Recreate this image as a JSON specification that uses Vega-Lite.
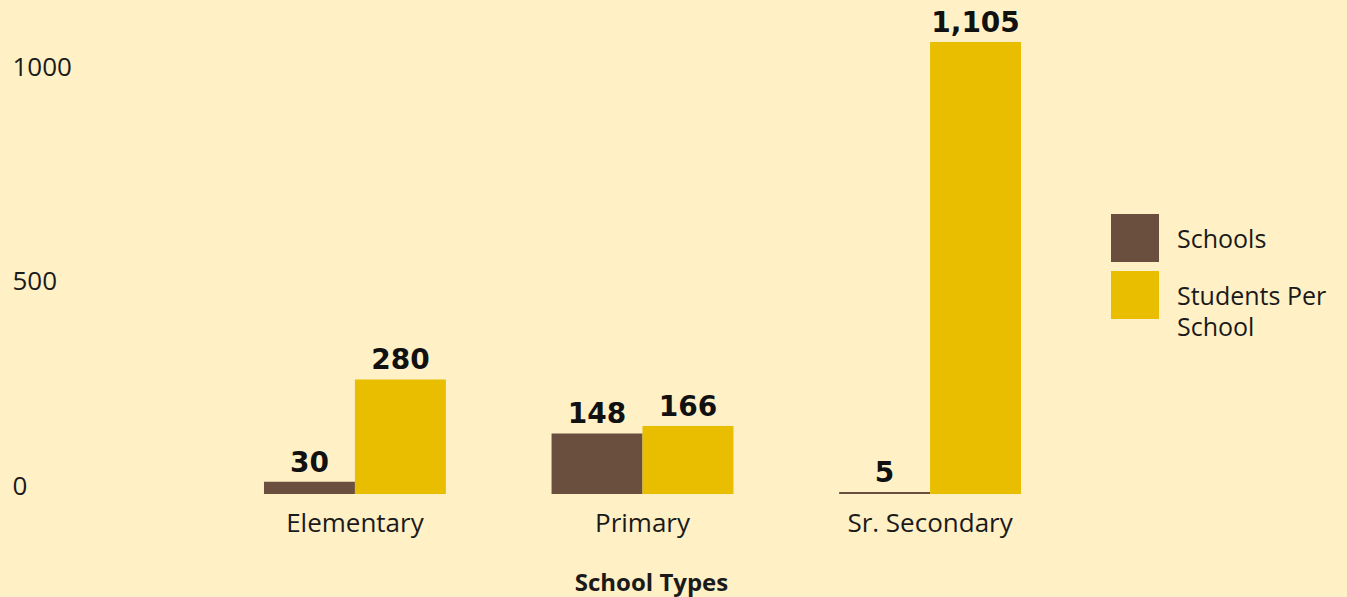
{
  "$schema": "https://vega.github.io/schema/vega-lite/v6.json",
  "autosize": {"type": "none"},
  "width": 929,
  "height": 452,
  "padding": {"left": 178, "top": 42, "right": 240, "bottom": 103},
  "background": "#FFF0C6",
  "config": {
    "view": {"stroke": null},
    "font": "Open Sans"
  },
  "data": {
    "values": [
      {"type": "Elementary", "metric": "Schools", "value": 30},
      {"type": "Elementary", "metric": "Students Per School", "value": 280},
      {"type": "Primary", "metric": "Schools", "value": 148},
      {"type": "Primary", "metric": "Students Per School", "value": 166},
      {"type": "Sr. Secondary", "metric": "Schools", "value": 5},
      {"type": "Sr. Secondary", "metric": "Students Per School", "value": 1105}
    ]
  },
  "encoding": {
    "x": {
      "field": "type",
      "type": "nominal",
      "sort": ["Elementary", "Primary", "Sr. Secondary"],
      "scale": {"paddingInner": 0.3675, "paddingOuter": 0.299},
      "axis": {
        "title": "School Types",
        "labelAngle": 0,
        "domain": false,
        "ticks": false,
        "tickSize": 0,
        "labelPadding": 16,
        "labelBaseline": "top",
        "labelFont": "Open Sans",
        "labelFontSize": 26,
        "labelColor": "#1a1a1a",
        "titleFont": "Open Sans",
        "titleFontSize": 24,
        "titleFontWeight": "bold",
        "titleColor": "#1a1a1a",
        "titleBaseline": "alphabetic",
        "titleAlign": "center",
        "titleX": 473,
        "titleY": 96
      }
    },
    "xOffset": {
      "field": "metric",
      "type": "nominal",
      "sort": ["Schools", "Students Per School"],
      "scale": {"paddingInner": 0, "paddingOuter": 0}
    },
    "y": {
      "field": "value",
      "type": "quantitative",
      "scale": {"domain": [0, 1105], "nice": false},
      "axis": {
        "title": null,
        "values": [0, 500, 1000],
        "domain": false,
        "ticks": false,
        "tickSize": 0,
        "grid": false,
        "labelAlign": "left",
        "labelPadding": 166,
        "labelOffset": {"condition": {"test": "datum.value == 1000", "value": -17}, "value": -8},
        "labelFont": "Open Sans",
        "labelFontSize": 26,
        "labelColor": "#1a1a1a",
        "format": "d"
      }
    }
  },
  "layer": [
    {
      "mark": {"type": "bar"},
      "encoding": {
        "color": {
          "field": "metric",
          "type": "nominal",
          "sort": ["Schools", "Students Per School"],
          "scale": {"domain": ["Schools", "Students Per School"], "range": ["#6B4F3E", "#E9BE00"]},
          "legend": {
            "title": null,
            "orient": "none",
            "legendX": 933,
            "legendY": 172,
            "symbolType": "square",
            "symbolSize": 2304,
            "symbolStrokeWidth": 0,
            "symbolOpacity": 1,
            "labelFont": "Open Sans",
            "labelFontSize": 25,
            "labelColor": "#1a1a1a",
            "labelOffset": 18,
            "labelLimit": 300,
            "rowPadding": 9,
            "labelExpr": "datum.label == 'Students Per School' ? ['Students Per', 'School'] : datum.label",
            "encode": {
              "labels": {"update": {"lineHeight": {"value": 31}, "dy": {"value": 2}}}
            }
          }
        }
      }
    },
    {
      "mark": {
        "type": "text",
        "font": "DejaVu Sans",
        "fontWeight": "bold",
        "fontSize": 28,
        "baseline": "alphabetic",
        "dy": -10,
        "color": "#111111"
      },
      "encoding": {
        "text": {"field": "value", "type": "quantitative", "format": ",.0f"}
      }
    }
  ]
}
